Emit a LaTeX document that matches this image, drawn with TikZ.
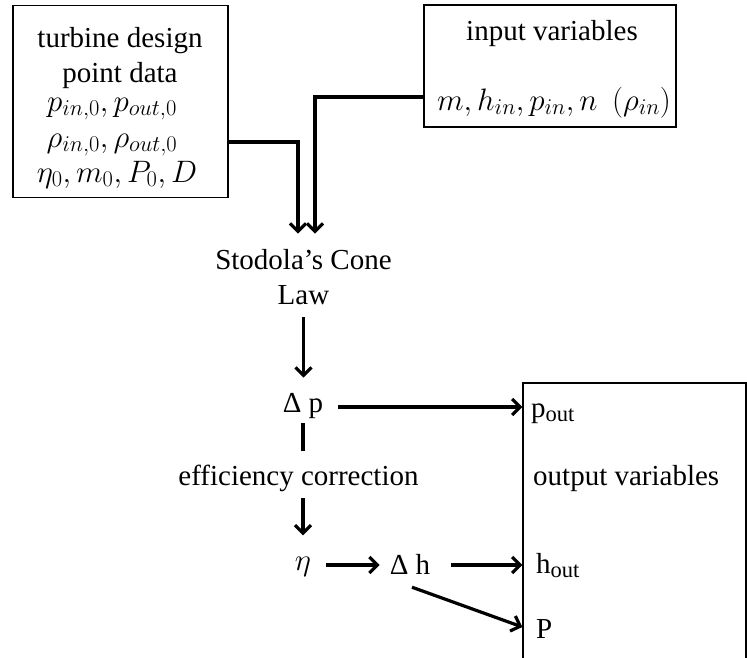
\RequirePackage{fix-cm}
\documentclass[tikz,border=0pt]{standalone}
\usepackage{fontspec}
\setmainfont{Liberation Serif}
\DeclareMathSizes{29}{31}{22.5}{17}
\usetikzlibrary{arrows.meta}
\begin{document}
\begin{tikzpicture}[x=1pt,y=-1pt,
  txt/.style={inner sep=0pt,font=\fontsize{29}{35}\selectfont},
  box/.style={draw,line width=1.3pt,inner sep=0pt},
  conn/.style={line width=3.2pt},
  arr/.style={line width=3.2pt,-{Straight Barb[length=8pt,width=16pt]}}]
\useasboundingbox (0,0) rectangle (747,657);
% input boxes
\node[box,minimum width=215pt,minimum height=192pt] (tbox) at (120.5,101.5) {};
\node[txt,anchor=base] (t1) at (120,47) {turbine design};
\node[txt,anchor=base] (t2) at (120,82) {point data};
\node[txt,anchor=base] (t3) at (112,111) {$p_{in,0}, p_{out,0}$};
\node[txt,anchor=base] (t4) at (112,147) {$\rho_{in,0}, \rho_{out,0}$};
\node[txt,anchor=base] (t5) at (117,182) {$\eta_0, m_0, P_0, D$};
\node[box,minimum width=252pt,minimum height=122pt] (ibox) at (550,66) {};
\node[txt,anchor=base] (i1) at (552,40) {input variables};
\node[txt,anchor=base] (i2) at (554,110) {$m, h_{in}, p_{in}, n\ \ (\rho_{in})$};
% middle chain
\node[txt,anchor=base,align=center] (law) at (303.5,304) {Stodola’s Cone\\Law};
\node[txt,anchor=base] (dp) at (303,412) {Δ p};
\node[txt,anchor=base] (eff) at (298.5,485) {efficiency correction};
\node[txt,anchor=base] (eta) at (303,570) {$\eta$};
\node[txt,anchor=base] (dh) at (410,574) {Δ h};
% output box
\node[box,minimum width=223pt,minimum height=276pt] (obox) at (634.5,521) {};
\node[txt,anchor=base west] (pout) at (531,417) {p\textsubscript{out}};
\node[txt,anchor=base west] (ov) at (533,485) {output variables};
\node[txt,anchor=base west] (hout) at (536,573) {h\textsubscript{out}};
\node[txt,anchor=base west] (P) at (536,638) {P};
% connectors
\draw[arr,shorten >=15pt] (tbox.east |- 0,142) -| ([xshift=-5.5pt]law.north);
\draw[arr,shorten >=15pt] (ibox.west |- 0,97) -| ([xshift=11.5pt]law.north);
\draw[arr,shorten <=13pt,shorten >=15pt] (law.south) -- (law.south |- dp.north);
\draw[arr,shorten <=15pt] (dp.east |- 0,407) -- (obox.west |- 0,407);
\draw[conn,shorten <=5pt,shorten >=13pt] (dp.south) -- (dp.south |- eff.north);
\draw[arr,shorten <=7pt,shorten >=21pt] (eta.north |- eff.south) -- (eta.north);
\draw[arr,shorten <=15pt,shorten >=10pt] (eta.east |- 0,565) -- (dh.west |- 0,565);
\draw[arr,shorten <=21pt] (dh.east |- 0,565) -- (obox.west |- 0,565);
\draw[arr] ([xshift=2pt,yshift=-13pt]dh.south) -- (obox.west |- 0,627);
\end{tikzpicture}
\end{document}
